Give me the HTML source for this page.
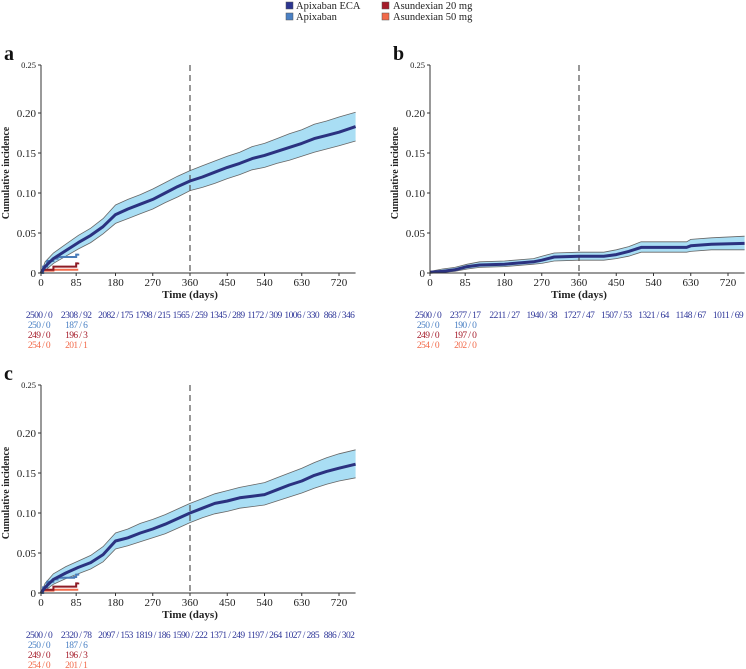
<!DOCTYPE html>
<html><head><meta charset="utf-8"><style>
body{margin:0;background:#fff;width:746px;height:669px;overflow:hidden}
svg{display:block;font-family:"Liberation Serif",serif}
</style></head><body>
<svg id="chart" width="746" height="669" viewBox="0 0 746 669">
<g font-size="10.5" fill="#222">
<rect x="286" y="2" width="7" height="7" fill="#2b3590" stroke="#555" stroke-width="0.5"/><text x="296" y="9">Apixaban ECA</text>
<rect x="286" y="13" width="7" height="7" fill="#4a80c4" stroke="#555" stroke-width="0.5"/><text x="296" y="20">Apixaban</text>
<rect x="382" y="2" width="7" height="7" fill="#a51c2a" stroke="#555" stroke-width="0.5"/><text x="393" y="9">Asundexian 20 mg</text>
<rect x="382" y="13" width="7" height="7" fill="#f26a4a" stroke="#555" stroke-width="0.5"/><text x="393" y="20">Asundexian 50 mg</text>
</g>
</svg>
<script>
// ---- data ----
const xTicks=[0,85,180,270,360,450,540,630,720];
const yTicks=[0,0.05,0.10,0.15,0.20];
const yTickLabels=["0","0.05","0.10","0.15","0.20"];
const aDays=[0,10,30,60,90,120,150,180,210,240,270,300,330,360,390,420,450,480,510,540,570,600,630,660,690,720,760];
const aMain=[0,0.008,0.018,0.028,0.038,0.047,0.058,0.073,0.080,0.086,0.092,0.100,0.108,0.115,0.120,0.126,0.132,0.137,0.143,0.147,0.152,0.157,0.162,0.168,0.172,0.176,0.183];
const aUpper=[0,0.014,0.025,0.036,0.047,0.056,0.068,0.085,0.092,0.098,0.105,0.113,0.121,0.128,0.134,0.140,0.146,0.151,0.158,0.162,0.168,0.174,0.179,0.186,0.190,0.195,0.201];
const aLower=[0,0.003,0.012,0.021,0.030,0.038,0.049,0.062,0.068,0.074,0.080,0.088,0.095,0.103,0.107,0.112,0.118,0.123,0.129,0.132,0.137,0.141,0.146,0.151,0.155,0.159,0.165];
const bDays=[0,30,60,90,120,180,250,270,300,360,420,450,480,510,620,630,680,760];
const bMain=[0.001,0.002,0.004,0.008,0.010,0.011,0.014,0.016,0.020,0.021,0.021,0.023,0.027,0.032,0.032,0.034,0.036,0.037];
const bUpper=[0.002,0.005,0.007,0.011,0.014,0.015,0.018,0.021,0.025,0.026,0.026,0.029,0.033,0.039,0.039,0.042,0.044,0.046];
const bLower=[0,0.001,0.002,0.005,0.007,0.008,0.011,0.012,0.015,0.016,0.016,0.018,0.021,0.026,0.026,0.027,0.029,0.029];
const cDays=[0,10,30,60,90,120,150,180,210,240,270,300,330,360,390,420,450,480,510,540,570,600,630,660,690,720,760];
const cMain=[0,0.007,0.017,0.025,0.032,0.038,0.048,0.065,0.069,0.075,0.080,0.086,0.093,0.100,0.106,0.112,0.115,0.119,0.121,0.123,0.129,0.135,0.140,0.147,0.152,0.156,0.161];
const cUpper=[0,0.012,0.024,0.033,0.040,0.047,0.058,0.075,0.080,0.087,0.092,0.098,0.105,0.112,0.118,0.124,0.128,0.132,0.135,0.138,0.144,0.150,0.156,0.163,0.169,0.174,0.179];
const cLower=[0,0.003,0.011,0.018,0.024,0.030,0.039,0.055,0.059,0.064,0.069,0.074,0.081,0.088,0.094,0.099,0.102,0.106,0.108,0.110,0.115,0.120,0.125,0.131,0.136,0.140,0.144];
const smDays=[0,5,15,30,40,80,85,90];
const apixA=[0,0.008,0.015,0.018,0.020,0.020,0.023,0.024];
const asu20=[0,0.004,0.004,0.008,0.008,0.008,0.012,0.013];
const asu50=[0,0.003,0.003,0.004,0.004,0.004,0.004,0.004];
const apixC=[0,0.007,0.014,0.017,0.019,0.020,0.023,0.024];
const riskA=[["2500 / 0","2308 / 92","2082 / 175","1798 / 215","1565 / 259","1345 / 289","1172 / 309","1006 / 330","868 / 346"],["250 / 0","187 / 6"],["249 / 0","196 / 3"],["254 / 0","201 / 1"]];
const riskB=[["2500 / 0","2377 / 17","2211 / 27","1940 / 38","1727 / 47","1507 / 53","1321 / 64","1148 / 67","1011 / 69"],["250 / 0","190 / 0"],["249 / 0","197 / 0"],["254 / 0","202 / 0"]];
const riskC=[["2500 / 0","2320 / 78","2097 / 153","1819 / 186","1590 / 222","1371 / 249","1197 / 264","1027 / 285","886 / 302"],["250 / 0","187 / 6"],["249 / 0","196 / 3"],["254 / 0","201 / 1"]];
const riskColors=["#2f3799","#4a80c4","#a51c2a","#f26a4a"];
// ---- drawing ----
const NS="http://www.w3.org/2000/svg";
const svg=document.getElementById('chart');
function mk(tag,attrs,parent){const e=document.createElementNS(NS,tag);for(const k in attrs)e.setAttribute(k,attrs[k]);parent.appendChild(e);return e;}
function stepPath(days,vals,sx,sy){let d="M"+sx(days[0])+","+sy(vals[0]);for(let i=1;i<days.length;i++){d+="H"+sx(days[i])+"V"+sy(vals[i]);}return d;}
function linePath(days,vals,sx,sy){return days.map((d,i)=>(i?"L":"M")+sx(d).toFixed(1)+","+sy(vals[i]).toFixed(1)).join("");}
function panel(letter,ox,oy,days,main,up,lo,small,risk){
 const g=mk('g',{},svg);
 
 
 const sx=d=>ox+d*298/720, sy=v=>oy-v*800;
 const lab=mk('text',{x:ox-37,y:oy-213,'font-size':20,'font-weight':'bold',fill:'#111'},g);lab.textContent=letter;
 
 
 // band
 let d=linePath(days,up,sx,sy);
 for(let i=days.length-1;i>=0;i--)d+="L"+sx(days[i]).toFixed(1)+","+sy(lo[i]).toFixed(1);
 const band=mk('path',{d:d+"Z",fill:'#a9def4',stroke:'none'},g);
 
 
 mk('path',{d:linePath(days,up,sx,sy),fill:'none',stroke:'#666',"stroke-width":0.8},g);
 mk('path',{d:linePath(days,lo,sx,sy),fill:'none',stroke:'#666',"stroke-width":0.8},g);
 // dashed
 const dl=mk('line',{x1:sx(360),x2:sx(360),y1:oy-208,y2:oy,stroke:'#555','stroke-width':1.2,'stroke-dasharray':'6,4'},g);
 
 
 if(small){small.forEach(s=>{const p=mk('path',{d:stepPath(smDays,s.v,sx,sy),fill:'none',stroke:s.c,'stroke-width':2},g);
  
  });}
 const ml=mk('path',{d:linePath(days,main,sx,sy),fill:'none',stroke:'#2b3280','stroke-width':3,'stroke-linejoin':'round'},g);
 
 
 // axes
 mk('line',{x1:ox,x2:ox,y1:oy-208,y2:oy,stroke:'#333','stroke-width':1},g);
 mk('line',{x1:ox,x2:sx(760),y1:oy,y2:oy,stroke:'#333','stroke-width':1},g);
 yTicks.forEach((v,i)=>{mk('line',{x1:ox-3,x2:ox,y1:sy(v),y2:sy(v),stroke:'#333'},g);
  const t=mk('text',{x:ox-5,y:sy(v)+4,'text-anchor':'end','font-size':11,fill:'#222'},g);t.textContent=yTickLabels[i];
  
  });
 mk('line',{x1:ox-3,x2:ox,y1:oy-208,y2:oy-208,stroke:'#333'},g);
 const t25=mk('text',{x:ox-5,y:oy-205,'text-anchor':'end','font-size':8.5,fill:'#222'},g);t25.textContent="0.25";
 xTicks.forEach(v=>{mk('line',{x1:sx(v),x2:sx(v),y1:oy,y2:oy+3,stroke:'#333'},g);
  const t=mk('text',{x:sx(v),y:oy+13,'text-anchor':'middle','font-size':11,fill:'#222'},g);t.textContent=v;
  
  });
 const xt=mk('text',{x:ox+149,y:oy+25,'text-anchor':'middle','font-size':11,'font-weight':'bold',fill:'#222'},g);xt.textContent="Time (days)";
 
 
 const yt=mk('text',{transform:`translate(${ox-32},${oy-100}) rotate(-90)`,'text-anchor':'middle','font-size':10,'font-weight':'bold',fill:'#222'},g);yt.textContent="Cumulative incidence";
 
 
 risk.forEach((row,r)=>row.forEach((s,i)=>{const t=mk('text',{x:sx(xTicks[i])-(i==0?2:0),y:oy+45+r*10,'text-anchor':'middle','font-size':9.5,'letter-spacing':'-0.6',fill:riskColors[r]},g);t.textContent=s;
  
  }));
}
panel('a',41,273,aDays,aMain,aUpper,aLower,[{v:asu50,c:'#f26a4a',n:'asundexian-50-line'},{v:asu20,c:'#8e1b25',n:'asundexian-20-line'},{v:apixA,c:'#4a7cb8',n:'apixaban-line'}],riskA);
panel('b',430,273,bDays,bMain,bUpper,bLower,null,riskB);
panel('c',41,593,cDays,cMain,cUpper,cLower,[{v:asu50,c:'#f26a4a',n:'asundexian-50-line'},{v:asu20,c:'#8e1b25',n:'asundexian-20-line'},{v:apixC,c:'#4a7cb8',n:'apixaban-line'}],riskC);
</script>
</body></html>
